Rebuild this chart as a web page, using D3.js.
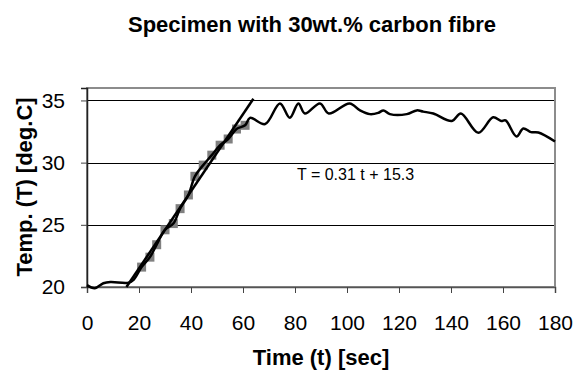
<!DOCTYPE html>
<html>
<head>
<meta charset="utf-8" />
<title>Specimen with 30wt.% carbon fibre</title>
<script src="https://cdn.jsdelivr.net/npm/d3@7"></script>
<style>
  html, body { margin: 0; background: #fff; }
  text { font-family: Arial, "Liberation Sans", sans-serif; fill: #000; }
  .grid line { stroke: #000; stroke-width: 1px; }
</style>
</head>
<body>
<div id="container"></div>
<script>
// temperature curve
var curveTime = [0, 3, 6.3, 9, 16, 18, 21.0, 24.2, 26.8, 30.0, 33.2, 35.8, 39.0, 41.5, 44.7, 48.0,
  51.2, 54.3, 57.5, 60.8, 62.7, 68.5, 74.2, 78, 81.3, 83.8, 89.6, 93, 101, 105, 108.8, 112,
  114, 116.5, 123, 126.8, 129.3, 133.2, 140.3, 143.8, 150.5, 156.2, 159.3, 161, 165.2, 167.8,
  170.8, 173.6, 180];
var curveTemp = [20.15, 19.9, 20.3, 20.4, 20.35, 20.6, 21.6, 22.4, 23.4, 24.6, 25.1, 26.3, 27.4, 28.9, 29.8, 30.6,
  31.4, 31.9, 32.7, 33.0, 33.6, 33.1, 34.76, 33.6, 34.76, 33.95, 34.76, 33.95, 34.76, 34.2, 33.9, 34.0,
  34.2, 33.9, 33.9, 34.2, 34.1, 33.95, 33.35, 33.95, 32.4, 33.65, 33.35, 33.4, 32.1, 32.75,
  32.45, 32.42, 31.7];

// points used for the fit (grey squares)
var fitTime = [21.0, 24.2, 26.8, 30.0, 33.2, 35.8, 39.0, 41.5, 44.7, 48.0, 51.2, 54.3, 57.5, 60.8];
var fitTemp = [21.6, 22.4, 23.4, 24.6, 25.1, 26.3, 27.4, 28.9, 29.8, 30.6, 31.4, 31.9, 32.7, 33.0];

// trendline T = 0.31 t + 15.3
var slope = 0.31, intercept = 15.3;
var trendRange = [15.16, 64];

var xTicks = [0, 20, 40, 60, 80, 100, 120, 140, 160, 180];
var yTicks = [20, 25, 30, 35];

var W = 574, H = 380;
var plotLeft = 87, plotRight = 555, plotTop = 88, plotBottom = 287;

var svg = d3.select("#container").append("svg")
    .attr("width", W)
    .attr("height", H);

var x = d3.scaleLinear().domain([0, 180]).range([plotLeft, plotRight]);
var y = d3.scaleLinear().domain([20, 36]).range([plotBottom, plotTop]);

// gridlines
svg.append("g")
    .attr("class", "grid")
    .selectAll("line")
    .data(yTicks.filter(function(d) { return d > 20; }))
    .enter().append("line")
    .attr("x1", plotLeft).attr("x2", plotRight)
    .attr("y1", function(d) { return Math.round(y(d)) + 0.5; })
    .attr("y2", function(d) { return Math.round(y(d)) + 0.5; });

// plot frame
svg.append("rect")
    .attr("x", plotLeft).attr("y", plotTop)
    .attr("width", plotRight - plotLeft).attr("height", plotBottom - plotTop)
    .attr("fill", "none")
    .attr("stroke", "#8c8c8c")
    .attr("stroke-width", 2);

// axes
var xAxis = svg.append("g")
    .attr("transform", "translate(0," + plotBottom + ")")
    .call(d3.axisBottom(x).tickValues(xTicks).tickSize(6).tickPadding(20));
xAxis.select(".domain").attr("stroke", "#555").attr("stroke-width", 1.5);
xAxis.selectAll(".tick line").attr("stroke", "#444");
xAxis.selectAll("text").attr("font-size", "21px").attr("dy", 0).attr("y", 43);

var yAxis = svg.append("g")
    .attr("transform", "translate(" + plotLeft + ",0)")
    .call(d3.axisLeft(y).tickValues(yTicks).tickSize(6).tickPadding(16));
yAxis.select(".domain").attr("stroke", "#222").attr("stroke-width", 1.5);
yAxis.selectAll(".tick line").attr("stroke", "#444");
yAxis.selectAll("text").attr("font-size", "21px");

// fit squares
svg.append("g")
    .selectAll("rect")
    .data(fitTime)
    .enter().append("rect")
    .attr("x", function(d) { return x(d) - 4.5; })
    .attr("y", function(d, i) { return y(fitTemp[i]) - 4.5; })
    .attr("width", 9).attr("height", 9)
    .attr("fill", "#808080");

// temperature curve
var line = d3.line()
    .x(function(d) { return x(d); })
    .y(function(d, i) { return y(curveTemp[i]); })
    .curve(d3.curveCatmullRom.alpha(0.5));

svg.append("path")
    .datum(curveTime)
    .attr("d", line)
    .attr("fill", "none")
    .attr("stroke", "#000")
    .attr("stroke-width", 2.5)
    .attr("stroke-linejoin", "round");

// trendline
svg.append("line")
    .attr("x1", x(trendRange[0])).attr("y1", y(slope * trendRange[0] + intercept))
    .attr("x2", x(trendRange[1])).attr("y2", y(slope * trendRange[1] + intercept))
    .attr("stroke", "#000")
    .attr("stroke-width", 2.5);

svg.append("text")
    .attr("x", 297).attr("y", 180)
    .attr("font-size", "16px")
    .text("T = " + slope + " t + " + intercept);

// titles
svg.append("text")
    .attr("x", 312).attr("y", 32)
    .attr("text-anchor", "middle")
    .attr("font-size", "22px")
    .attr("font-weight", "bold")
    .text("Specimen with 30wt.% carbon fibre");

svg.append("text")
    .attr("x", 321).attr("y", 365)
    .attr("text-anchor", "middle")
    .attr("font-size", "22px")
    .attr("font-weight", "bold")
    .text("Time (t) [sec]");

svg.append("text")
    .attr("transform", "translate(32,187) rotate(-90)")
    .attr("text-anchor", "middle")
    .attr("font-size", "22px")
    .attr("font-weight", "bold")
    .text("Temp. (T) [deg.C]");
</script>
</body>
</html>
